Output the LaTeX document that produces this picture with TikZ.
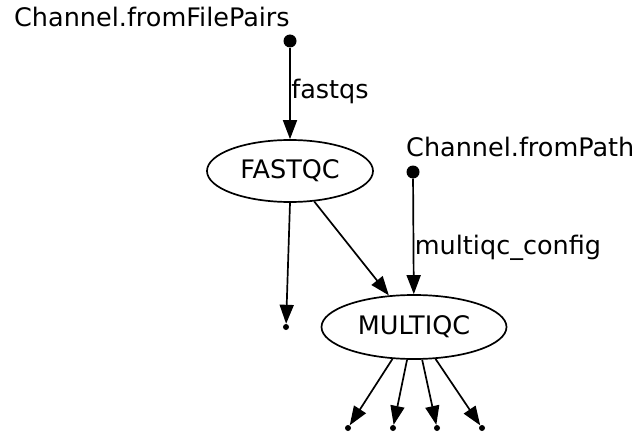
\documentclass[tikz,border=0pt]{standalone}
\usepackage{fontspec}
\setmainfont{DejaVu Sans}
\usetikzlibrary{arrows.meta,shapes.geometric}
\begin{document}
\begin{tikzpicture}[x=1pt,y=-1pt,
    proc/.style={draw,ellipse,line width=1.7pt,inner sep=0pt,font=\fontsize{25.5}{30}\selectfont},
    src/.style={circle,fill,inner sep=0pt,minimum size=13pt},
    sink/.style={circle,fill,inner sep=0pt,minimum size=6pt},
    lbl/.style={inner sep=0pt,font=\fontsize{25.5}{30}\selectfont},
    edge/.style={line width=1.7pt,-{Triangle[length=19pt,width=14pt]}}]
  \useasboundingbox (0,0) rectangle (637,433);
  % channels
  \node[lbl,anchor=base west] (pairslbl) at (14,27) {Channel.fromFilePairs};
  \node[src] (pairs) at (290,41) {};
  \node[lbl,anchor=base west] (pathlbl) at (406,157) {Channel.fromPath};
  \node[src] (path) at (413,172) {};
  % processes
  \node[proc,minimum width=166pt,minimum height=62pt] (fastqc) at (290,171) {FASTQC};
  \node[proc,minimum width=185pt,minimum height=64pt] (multiqc) at (414,327) {MULTIQC};
  % outputs
  \node[sink] (out0) at (286,327) {};
  \foreach \i/\x in {1/348,2/393,3/437,4/482}
    \node[sink] (out\i) at (\x,428) {};
  % edges
  \draw[edge] (pairs) -- node[lbl,anchor=base west,pos=0.557,xshift=0.5pt] (fastqs) {fastqs} (fastqc);
  \draw[edge] (path) -- node[lbl,anchor=base west,pos=0.657,xshift=0.5pt] (mqcconf) {multiqc\_config} (multiqc);
  \draw[edge] (fastqc.south) -- (out0);
  \draw[edge] (fastqc) -- (multiqc);
  \foreach \i/\a in {1/-124,2/-102,3/-76,4/-56}
    \draw[edge] (multiqc.\a) -- (out\i);
\end{tikzpicture}
\end{document}
